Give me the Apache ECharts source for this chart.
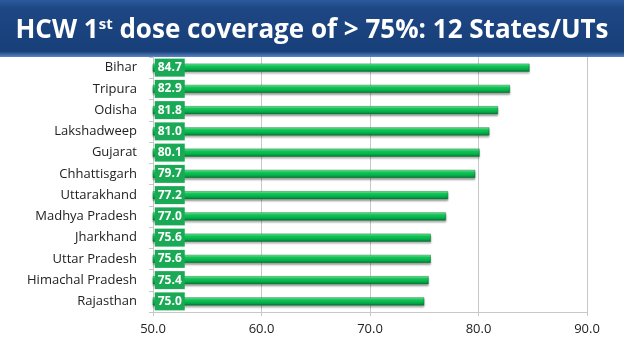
<!DOCTYPE html>
<html>
<head>
<meta charset="utf-8">
<script src="https://cdn.jsdelivr.net/npm/echarts@6/dist/echarts.min.js"></script>
<style>
  html, body { margin: 0; padding: 0; background: #fff; }
  #main { width: 624px; height: 351px; }
</style>
</head>
<body>
<div id="main"></div>
<script>
// states, top to bottom as in the picture
const states = ['Bihar', 'Tripura', 'Odisha', 'Lakshadweep', 'Gujarat', 'Chhattisgarh',
  'Uttarakhand', 'Madhya Pradesh', 'Jharkhand', 'Uttar Pradesh', 'Himachal Pradesh', 'Rajasthan'];
const coverage = [84.7, 82.9, 81.8, 81.0, 80.1, 79.7, 77.2, 77.0, 75.6, 75.6, 75.4, 75.0];
const axisMin = 50;
const axisMax = 90;
const axisStep = 10;

const chart = echarts.init(document.getElementById('main'));

const option = {
  animation: false,
  graphic: [
    {
      type: 'rect',
      shape: { x: 0, y: 0, width: 624, height: 57 },
      style: {
        fill: new echarts.graphic.LinearGradient(0, 0, 0, 1, [
          { offset: 0, color: '#2c5a9c' },
          { offset: 0.15, color: '#1d4683' },
          { offset: 0.9, color: '#17407a' },
          { offset: 1, color: '#5b86c4' }
        ])
      },
      z: 0
    },
    {
      type: 'text',
      x: 312,
      y: 31,
      style: {
        text: '{m|HCW 1}{s|st}{m| dose coverage of > 75%: 12 States/UTs}',
        align: 'center',
        verticalAlign: 'middle',
        rich: {
          m: { fontFamily: 'Open Sans', fontWeight: 'bold', fontSize: 26, fill: '#fff', color: '#fff' },
          s: { fontFamily: 'Open Sans', fontWeight: 'bold', fontSize: 15, fill: '#fff', color: '#fff', verticalAlign: 'top', padding: [0, 0, 12, 0] }
        }
      },
      z: 1
    }
  ],
  grid: { left: 153, right: 37, top: 57, bottom: 39, containLabel: false },
  xAxis: {
    type: 'value',
    min: axisMin,
    max: axisMax,
    interval: axisStep,
    axisLine: { show: true, lineStyle: { color: '#c8c8c8' } },
    axisTick: { show: true, length: 4, lineStyle: { color: '#c8c8c8' } },
    splitLine: { show: true, lineStyle: { color: '#c8c8c8' } },
    axisLabel: {
      formatter: v => v.toFixed(1),
      color: '#222',
      fontFamily: 'Open Sans',
      fontSize: 13,
      margin: 11
    }
  },
  yAxis: {
    type: 'category',
    data: states,
    inverse: true,
    axisLine: { show: true, lineStyle: { color: '#c8c8c8' } },
    axisTick: { show: true, length: 4, lineStyle: { color: '#c8c8c8' } },
    axisLabel: {
      color: '#222',
      fontFamily: 'Open Sans',
      fontSize: 13,
      margin: 16
    }
  },
  series: [
    {
      type: 'bar',
      data: coverage,
      barWidth: 8,
      itemStyle: {
        color: new echarts.graphic.LinearGradient(0, 0, 0, 1, [
          { offset: 0, color: '#6df09a' },
          { offset: 0.35, color: '#12cc5a' },
          { offset: 0.75, color: '#00a844' },
          { offset: 1, color: '#0a6e32' }
        ]),
        borderColor: '#0d7a38',
        borderWidth: 0.5,
        shadowColor: 'rgba(0,0,0,0.35)',
        shadowOffsetY: 2,
        shadowBlur: 2
      },
      label: {
        show: true,
        position: 'insideLeft',
        offset: [-3, 0],
        formatter: p => p.value.toFixed(1),
        color: '#fff',
        fontFamily: 'Open Sans',
        fontWeight: 'bold',
        fontSize: 12,
        backgroundColor: '#1aaa55',
        padding: [2, 3, 2, 3],
        lineHeight: 14
      }
    }
  ]
};

chart.setOption(option);
</script>
</body>
</html>
